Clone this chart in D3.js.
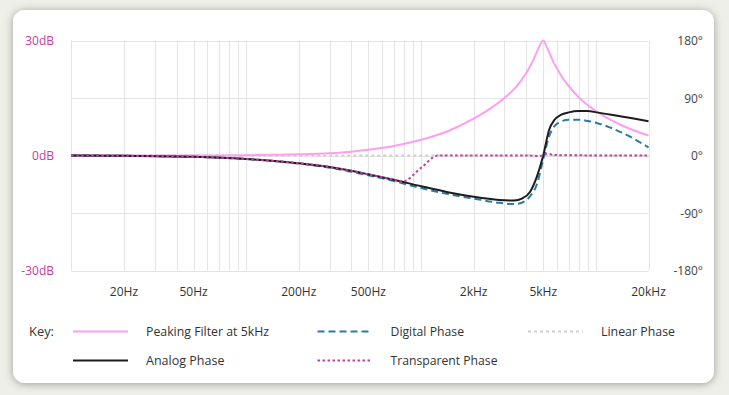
<!DOCTYPE html>
<html>
<head>
<meta charset="utf-8">
<script src="https://cdn.jsdelivr.net/npm/d3@7"></script>
<style>
  html, body { margin: 0; padding: 0; background: #efefe9; }
  svg { display: block; }
  text { font-family: "Open Sans", "DejaVu Sans", sans-serif; }
</style>
</head>
<body>
<svg id="chart" width="729" height="395"></svg>
<script>
// ---------- data ----------
const magFreqs = [10, 50, 100, 200, 300, 400, 500, 700, 1000, 1400, 2000, 2500, 3000, 3500, 4000, 4400, 4700, 5000, 5300, 5700, 6200, 6800, 7500, 8500, 10000, 12000, 14000, 20000];
const magDb    = [0, 0.02, 0.08, 0.3, 0.6, 1.0, 1.5, 2.5, 4.1, 6.2, 9.6, 12.3, 15.0, 17.9, 21.5, 25.0, 28.0, 30, 27.8, 24.5, 21.5, 18.8, 16.5, 14.0, 11.6, 9.4, 7.9, 5.2];

const phaseFreqs   = [10, 20, 50, 100, 150, 200, 300, 400, 500, 700, 1000, 1400, 2000, 2800, 3400, 3800, 4200, 4600, 5000, 5400, 5800, 6300, 7000, 8000, 9000, 10100, 12000, 14300, 20000];
const analogPhase  = [0, -0.5, -2, -5.5, -9, -12, -18, -24, -29.5, -38, -48, -57, -64.5, -69.5, -70.5, -67, -57, -33, 0, 40, 56, 63.5, 67.5, 69.5, 69.5, 67.5, 64, 60.7, 53.5];
const digitalPhase = [0, -0.5, -2, -5.5, -9, -12.5, -19, -25.5, -31, -40, -51, -60, -67.5, -74, -76, -73.5, -64, -45, -6, 30, 46, 53, 56, 56, 54, 51, 44, 35, 12.8];

const transFreqs = [10, 20, 50, 100, 150, 200, 300, 400, 500, 700, 780, 1000, 1250, 2000, 4000, 4700, 5000, 5250, 5700, 6800, 20000];
const transPhase = [0, -0.5, -2, -5.5, -9, -12, -18, -24, -29.5, -38, -41, -19.4, 0, 0, 0, -0.8, 0, 3, 1, 0.3, 0];

const linearFreqs = [10, 20000];
const linearPhase = [0, 0];

const gridFreqs = [10,20,30,40,50,60,70,80,90,100,200,300,400,500,600,700,800,900,1000,2000,3000,4000,5000,6000,7000,8000,9000,10000,20000];
const xTickFreqs  = [20, 50, 200, 500, 2000, 5000, 20000];
const xTickLabels = ["20Hz", "50Hz", "200Hz", "500Hz", "2kHz", "5kHz", "20kHz"];
const dbTicks     = [30, 0, -30];
const dbLabels    = ["30dB", "0dB", "-30dB"];
const degTicks    = [180, 90, 0, -90, -180];
const degLabels   = ["180°", "90°", "0°", "-90°", "-180°"];
const gridDeg     = [180, 90, 0, -90, -180];

const legendItems = [
  { name: "Peaking Filter at 5kHz", color: "#ff9ef0", dash: null, tl: 123 },
  { name: "Digital Phase", color: "#2b7ba6", dash: "7,4", tl: 73.5 },
  { name: "Linear Phase", color: "#cfcfcf", dash: "3,3", tl: 74 },
  { name: "Analog Phase", color: "#1c1c1c", dash: null, tl: 78.5 },
  { name: "Transparent Phase", color: "#c2409f", dash: "2.5,2.5", tl: 107 }
];

// ---------- layout ----------
const svg = d3.select("#chart");
const L = 71.3, R = 648.5, T = 40.5, B = 270.5;

const defs = svg.append("defs");
const f = defs.append("filter").attr("id", "sh").attr("x", "-10%").attr("y", "-10%").attr("width", "120%").attr("height", "120%");
f.append("feDropShadow").attr("dx", 0).attr("dy", 1).attr("stdDeviation", 4).attr("flood-color", "#000").attr("flood-opacity", 0.35);

svg.append("rect").attr("x", 13).attr("y", 10).attr("width", 701).attr("height", 373)
  .attr("rx", 12).attr("fill", "#ffffff").attr("filter", "url(#sh)");

const x = d3.scaleLog().domain([10, 20000]).range([L, R]);
const yDb = d3.scaleLinear().domain([-30, 30]).range([B, T]);
const yDeg = d3.scaleLinear().domain([-180, 180]).range([B, T]);

// grid
const g = svg.append("g");
g.selectAll("line.v").data(gridFreqs).enter().append("line")
  .attr("x1", d => Math.round(x(d)) + 0.5).attr("x2", d => Math.round(x(d)) + 0.5)
  .attr("y1", T).attr("y2", B).attr("stroke", "#e4e4e4").attr("stroke-width", 1);
g.selectAll("line.h").data(gridDeg).enter().append("line")
  .attr("x1", L).attr("x2", R)
  .attr("y1", d => Math.round(yDeg(d)) + 0.5).attr("y2", d => Math.round(yDeg(d)) + 0.5)
  .attr("stroke", "#e4e4e4").attr("stroke-width", 1);

// axis labels
svg.selectAll("text.xl").data(xTickFreqs).enter().append("text")
  .attr("x", d => x(d)).attr("y", 296).attr("text-anchor", "middle")
  .attr("font-size", 12).attr("fill", "#333").text((d, i) => xTickLabels[i]);
svg.selectAll("text.yl").data(dbTicks).enter().append("text")
  .attr("x", 54).attr("y", d => yDb(d) + 4.5).attr("text-anchor", "end")
  .attr("font-size", 12).attr("fill", "#c63d9e").text((d, i) => dbLabels[i]);
svg.selectAll("text.yr").data(degTicks).enter().append("text")
  .attr("x", 703).attr("y", d => yDeg(d) + 4.5).attr("text-anchor", "end")
  .attr("font-size", 12).attr("fill", "#444").text((d, i) => degLabels[i]);

// lines
const lineDeg = (fr, vals) => d3.line().curve(d3.curveMonotoneX)
  .x((d, i) => x(fr[i])).y(d => yDeg(d))(vals);
const lineDb = d3.line().curve(d3.curveMonotoneX)
  .x((d, i) => x(magFreqs[i])).y(d => yDb(d));

const plot = svg.append("g").attr("fill", "none");
plot.append("path").attr("d", lineDeg(linearFreqs, linearPhase))
  .attr("stroke", legendItems[2].color).attr("stroke-width", 2).attr("stroke-dasharray", legendItems[2].dash);
plot.append("path").attr("d", lineDb(magDb))
  .attr("stroke", legendItems[0].color).attr("stroke-width", 2);
plot.append("path").attr("d", lineDeg(phaseFreqs, digitalPhase))
  .attr("stroke", legendItems[1].color).attr("stroke-width", 2).attr("stroke-dasharray", legendItems[1].dash);
plot.append("path").attr("d", lineDeg(phaseFreqs, analogPhase))
  .attr("stroke", legendItems[3].color).attr("stroke-width", 2);
plot.append("path").attr("d", lineDeg(transFreqs, transPhase))
  .attr("stroke", legendItems[4].color).attr("stroke-width", 2).attr("stroke-dasharray", legendItems[4].dash);

// legend
svg.append("text").attr("x", 29).attr("y", 336).attr("font-size", 12).attr("fill", "#333")
  .attr("textLength", 25).attr("lengthAdjust", "spacingAndGlyphs").text("Key:");
const pos = [[73, 331.5], [317.5, 331.5], [528, 331.5], [73, 360.5], [317.5, 360.5]];
legendItems.forEach((it, i) => {
  const [lx, ly] = pos[i];
  svg.append("line").attr("x1", lx).attr("x2", lx + 55).attr("y1", ly).attr("y2", ly)
    .attr("stroke", it.color).attr("stroke-width", 2).attr("stroke-dasharray", it.dash);
  svg.append("text").attr("x", lx + 73).attr("y", ly + 4.5).attr("font-size", 12).attr("fill", "#333")
    .attr("textLength", it.tl).attr("lengthAdjust", "spacingAndGlyphs").text(it.name);
});
</script>
</body>
</html>
